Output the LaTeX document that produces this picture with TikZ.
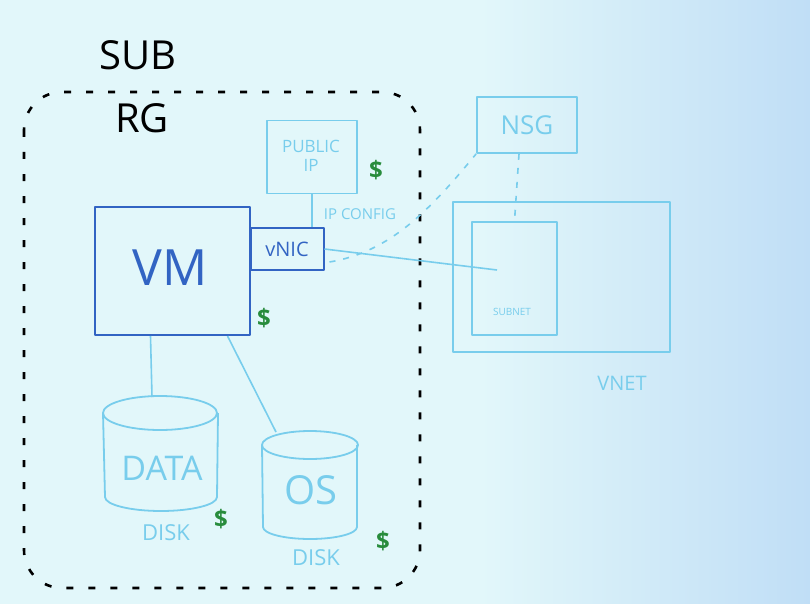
\documentclass[tikz,border=0pt]{standalone}
\usepackage{fontspec}
\setmainfont{Open Sans}
\begin{document}
\begin{tikzpicture}[x=1pt,y=-1pt,
  lb/.style={draw=lineblue,line width=1.8pt,line join=round},
  db/.style={draw=darkblue,line width=2pt,line join=round},
  wire/.style={lineblue,line width=1.6pt},
  dwire/.style={lineblue,line width=1.6pt,dash pattern=on 6pt off 8pt},
  ink/.style={text=lineblue,font=\fontsize{#1}{#1}\selectfont,inner sep=0pt},
  blk/.style={text=black,font=\fontsize{#1}{#1}\selectfont,inner sep=0pt},
  dollar/.style={text=moneygreen,font=\bfseries\fontsize{24}{24}\selectfont,inner sep=0pt}]
\definecolor{bgL}{RGB}{226,247,250}
\definecolor{bgR}{RGB}{192,222,246}
\definecolor{lineblue}{RGB}{120,205,236}
\definecolor{darkblue}{RGB}{50,100,195}
\definecolor{moneygreen}{RGB}{40,140,60}
% background
\fill[bgL] (0,0) rectangle (810,604);
\shade[left color=bgL,right color=bgR] (480,0) rectangle (810,604);
\useasboundingbox (0,0) rectangle (810,604);
% subscription / resource group
\node[blk=40] (sub) at (138,55) {SUB};
\node[blk=40] (rg) at (142,118) {RG};
\draw[black,line width=2.6pt,dash pattern=on 7pt off 15pt,rounded corners=38pt] (24,92) rectangle (420,588);
% VM and vNIC
\node[db,minimum width=155pt,minimum height=128pt,inner sep=0pt] (vm) at (172.5,271) {};
\node[text=darkblue,font=\fontsize{50}{50}\selectfont,inner sep=0pt] (vmt) at (170,268) {VM};
\node[db,minimum width=73pt,minimum height=42pt,inner sep=0pt,text=darkblue,font=\fontsize{20}{20}\selectfont] (vnic) at (287,249) {vNIC};
% public IP
\node[lb,minimum width=90pt,minimum height=73pt,inner sep=0pt] (pip) at (312,157) {};
\node[ink=17,align=center] (piptext) at (311,156) {PUBLIC\\[2pt]IP};
\node[ink=15] (ipc) at (360,214) {IP CONFIG};
% NSG, VNET, subnet
\node[lb,minimum width=100pt,minimum height=56pt,inner sep=0pt] (nsg) at (527,125) {};
\node[ink=26] (nsgt) at (527,125) {NSG};
\node[lb,minimum width=217pt,minimum height=150pt,inner sep=0pt] (vnet) at (561.5,277) {};
\node[lb,minimum width=85pt,minimum height=113pt,inner sep=0pt] (subnet) at (514.5,278.5) {};
\node[ink=10] (subt) at (512,312) {SUBNET};
\node[ink=20] (vnett) at (622,383) {VNET};
\coordinate (subpt) at (497,270);
% disks
\coordinate (dtop) at (152,397);
\draw[lb] (103,413) -- (105,497) arc[start angle=180,end angle=360,x radius=56pt,y radius=14pt] -- (218,413);
\draw[lb] (160,413) ellipse[x radius=57pt,y radius=17pt];
\node[ink=34] (datat) at (162,468) {DATA};
\node[ink=22] (disk1) at (166,533) {DISK};
\coordinate (otop) at (276,432);
\draw[lb] (262,445) -- (263,527) arc[start angle=180,end angle=360,x radius=47pt,y radius=12pt] -- (357,445);
\draw[lb] (310,445) ellipse[x radius=48pt,y radius=14pt];
\node[ink=40] (ost) at (311,490) {OS};
\node[ink=22] (disk2) at (316,558) {DISK};
% money
\node[dollar] (d1) at (376,170) {\$};
\node[dollar] (d2) at (264,318) {\$};
\node[dollar] (d3) at (221,519) {\$};
\node[dollar] (d4) at (383,541) {\$};
% connectors
\draw[wire] (pip.south) -- (vnic.north -| pip.south);
\draw[wire] (vnic.east) -- (subpt);
\draw[dwire] ([xshift=5pt,yshift=-13pt]vnic.east) .. controls (390,252) and (430,210) .. (nsg.south west);
\draw[dwire] ([xshift=-8pt]nsg.south) -- (subnet.north);
\draw[wire] ([xshift=-22pt]vm.south) -- (dtop);
\draw[wire] ([xshift=55pt]vm.south) -- (otop);
\end{tikzpicture}
\end{document}
